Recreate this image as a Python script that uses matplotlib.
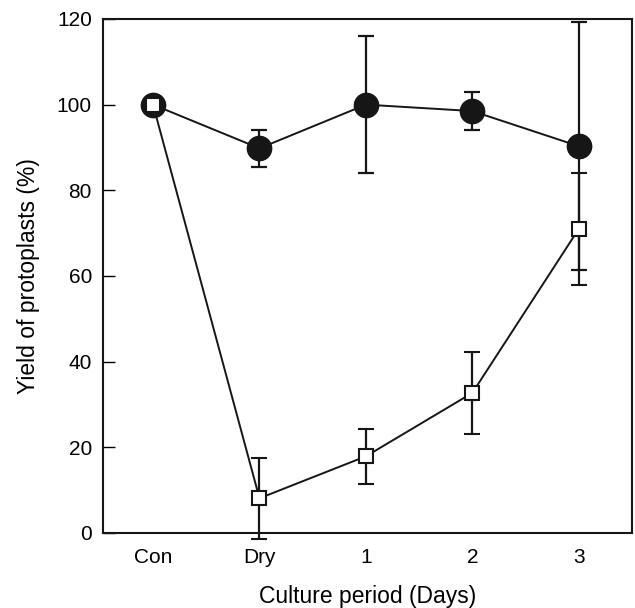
import matplotlib
matplotlib.use("Agg")
import matplotlib.pyplot as plt

plt.rcParams["font.family"] = ["Liberation Sans", "DejaVu Sans"]

categories = ["Con", "Dry", "1", "2", "3"]
circle_mean = [100, 89.8, 100, 98.5, 90.3]
circle_err = [1.8, 4.3, 16, 4.4, 29]
square_mean = [100, 8.1, 17.9, 32.7, 71]
square_err = [0, 9.5, 6.4, 9.5, 13]

x = list(range(len(categories)))

fig = plt.figure(figsize=(6.35, 6.08), dpi=100)
ax = fig.add_axes([0.1622, 0.1234, 0.8331, 0.8454])

dark = "#161616"
ax.errorbar(x, circle_mean, yerr=circle_err, color=dark, marker="o",
            markersize=17.5, markerfacecolor=dark, linewidth=1.4,
            elinewidth=1.6, capsize=6, capthick=1.6, zorder=3)
sq = ax.errorbar(x, square_mean, yerr=square_err, color=dark, marker="s",
                 markersize=10.5, markerfacecolor="white", markeredgewidth=1.5,
                 linewidth=1.4, elinewidth=1.6, capsize=6, capthick=1.6, zorder=4)
# the lower error bar of "Dry" runs past the axis in the original
for art in list(sq.lines[1]) + list(sq.lines[2]):
    art.set_clip_on(False)

ax.set_xlim(-0.47, 4.5)
ax.set_ylim(0, 120)
ax.set_xticks(x)
ax.set_xticklabels(categories)
ax.set_yticks(range(0, 121, 20))
ax.tick_params(axis="y", direction="in", length=8.5, width=1, labelsize=15, pad=8)
ax.tick_params(axis="x", length=0, labelsize=15, pad=11)
for s in ax.spines.values():
    s.set_linewidth(1.5)
    s.set_color(dark)

ax.set_xlabel("Culture period (Days)", fontsize=16.5, labelpad=13)
ax.set_ylabel("Yield of protoplasts (%)", fontsize=16.5, labelpad=12)

fig.savefig("out.png", dpi=100)
